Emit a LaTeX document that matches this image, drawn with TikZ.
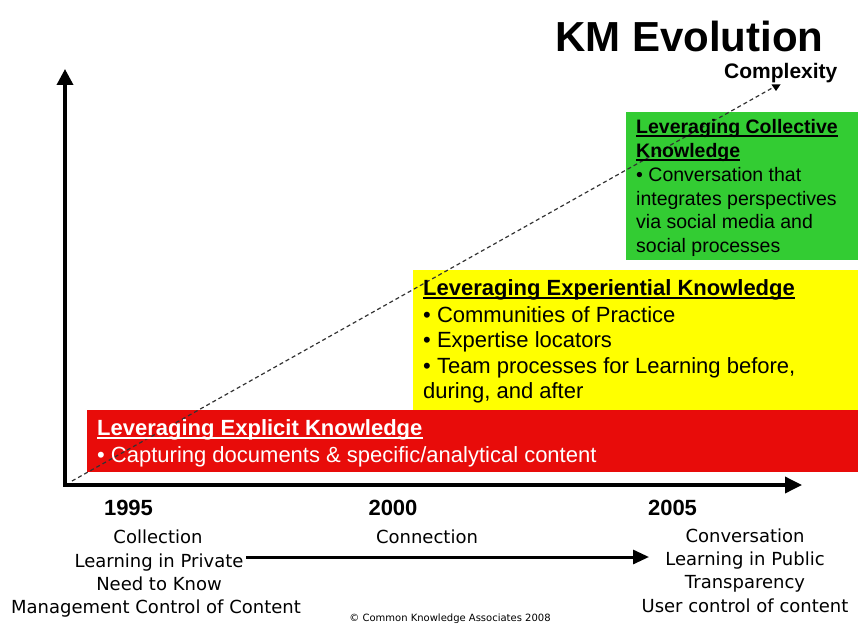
\documentclass[tikz,border=0pt]{standalone}
\usepackage{fontspec}
\setmainfont{Liberation Sans}
\newfontfamily\comic{DejaVu Sans}
\usetikzlibrary{arrows.meta}
\definecolor{kmred}{RGB}{232,12,10}
\definecolor{kmyellow}{RGB}{255,255,0}
\definecolor{kmgreen}{RGB}{51,204,51}
\begin{document}
\begin{tikzpicture}[x=1pt,y=-1pt,
  panel/.style={anchor=north west, inner sep=0, outer sep=0, draw=none},
  bigtext/.style={anchor=base west, inner sep=0, font=\fontsize{22}{26}\selectfont},
  gtext/.style={anchor=base west, inner sep=0, font=\fontsize{19.5}{23}\selectfont},
  btitle/.style={font=\bfseries\fontsize{22}{26}\selectfont},
  gtitle/.style={font=\bfseries\fontsize{19.5}{23}\selectfont},
  uline/.style={line width=1.6pt},
  handtext/.style={anchor=base, inner sep=0, font=\comic\fontsize{18}{22}\selectfont},
  yeartext/.style={anchor=base, inner sep=0, font=\bfseries\fontsize{22}{26}\selectfont},
  axis/.style={line width=3.5pt, line join=miter},
  trend/.style={line width=1.2pt, draw=black!80, dash pattern=on 4pt off 3pt},
]
\useasboundingbox (0,0) rectangle (858,623);

% title
\node[anchor=base west, inner sep=0, font=\bfseries\fontsize{42}{48}\selectfont] (title) at (555,52) {KM Evolution};
\node[anchor=base west, inner sep=0, font=\bfseries\fontsize{21}{24}\selectfont] (cplx) at (724,79) {Complexity};

% panels
\node[panel, fill=kmgreen, minimum width=232, minimum height=148] (green) at (626,112) {};
\node[panel, fill=kmyellow, minimum width=445, minimum height=140] (yellow) at (413,270) {};
\node[panel, fill=kmred, minimum width=771, minimum height=62] (red) at (87,410) {};

% axes
\coordinate (O) at (65,485);
\coordinate (Ytip) at (65,69);
\coordinate (Xtip) at (802,485);
\draw[axis, {Triangle[length=16pt,width=16pt]}-{Triangle[length=17pt,width=16pt]}] (Ytip) -- (O) -- (Xtip);

% dashed complexity trend
\coordinate (d0) at (72,481);
\coordinate (d1) at (774,87);
\draw[trend] (d0) -- (d1);
\fill[black] (771.5,84.5) -- (780.5,84.5) -- (776,91) -- cycle;

% red panel text
\node[bigtext, btitle, text=white] (tr) at (97,435) {Leveraging Explicit Knowledge};
\draw[uline, white] ([yshift=-3pt]tr.base west) -- ([yshift=-3pt]tr.base east);
\node[bigtext, text=white] (r1) at (97,462) {• Capturing documents \& specific/analytical content};

% yellow panel text
\node[bigtext, btitle] (ty) at (423,295) {Leveraging Experiential Knowledge};
\draw[uline] ([yshift=-3pt]ty.base west) -- ([yshift=-3pt]ty.base east);
\node[bigtext] (y1) at (423,322) {• Communities of Practice};
\node[bigtext] (y2) at (423,347) {• Expertise locators};
\node[bigtext] (y3) at (423,373) {• Team processes for Learning before,};
\node[bigtext] (y4) at (423,398) {during, and after};

% green panel text
\node[gtext, gtitle] (tg1) at (636,133) {Leveraging Collective};
\draw[uline] ([yshift=-3pt]tg1.base west) -- ([yshift=-3pt]tg1.base east);
\node[gtext, gtitle] (tg2) at (636,157) {Knowledge};
\draw[uline] ([yshift=-3pt]tg2.base west) -- ([yshift=-3pt]tg2.base east);
\node[gtext] (g1) at (636,181) {• Conversation that};
\node[gtext] (g2) at (636,205) {integrates perspectives};
\node[gtext] (g3) at (636,228) {via social media and};
\node[gtext] (g4) at (636,252) {social processes};

% years
\node[yeartext] (y1995) at (128.5,515) {1995};
\node[yeartext] (y2000) at (393,515) {2000};
\node[yeartext] (y2005) at (672.5,515) {2005};

% bottom captions
\node[handtext] (c1) at (158,543) {Collection};
\node[handtext] (c2) at (159,567) {Learning in Private};
\node[handtext] (c3) at (159,590) {Need to Know};
\node[handtext] (c4) at (156,613) {Management Control of Content};
\node[handtext] (m1) at (427,543) {Connection};
\node[handtext] (e1) at (745,542) {Conversation};
\node[handtext] (e2) at (745,565) {Learning in Public};
\node[handtext] (e3) at (745,588) {Transparency};
\node[handtext] (e4) at (745,612) {User control of content};

\coordinate (a0) at (246,557);
\coordinate (a1) at (649,557);
\draw[line width=3pt, -{Triangle[length=16pt,width=14pt]}] (a0) -- (a1);

\node[anchor=base, inner sep=0, font=\comic\fontsize{10}{12}\selectfont] (copy) at (450,621) {© Common Knowledge Associates 2008};
\end{tikzpicture}
\end{document}
